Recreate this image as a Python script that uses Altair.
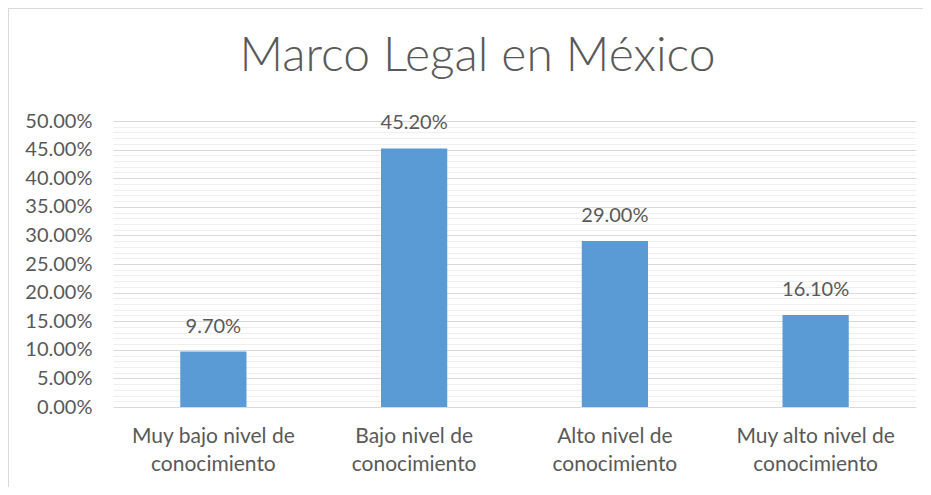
import altair as alt
import pandas as pd

categories = [
    "Muy bajo nivel de conocimiento",
    "Bajo nivel de conocimiento",
    "Alto nivel de conocimiento",
    "Muy alto nivel de conocimiento",
]
values = [0.097, 0.452, 0.290, 0.161]
y_ticks = [i / 100 for i in range(0, 51)]

df = pd.DataFrame({"cat": categories, "val": values})

FONT = "Lato"
TXT = "#595959"

base = alt.Chart(df).encode(
    x=alt.X(
        "cat:N",
        sort=categories,
        title=None,
        scale=alt.Scale(paddingInner=0.67, paddingOuter=0.335),
        axis=alt.Axis(
            labelAngle=0,
            labelExpr="[replace(datum.label, ' conocimiento', ''), 'conocimiento']",
            labelFont=FONT,
            labelFontSize=21,
            labelColor=TXT,
            labelPadding=18,
            labelLineHeight=28,
            ticks=False,
            domain=False,
            grid=False,
        ),
    ),
    y=alt.Y(
        "val:Q",
        title=None,
        scale=alt.Scale(domain=[0, 0.5], nice=False),
        axis=alt.Axis(
            values=y_ticks,
            format=".2%",
            labelExpr="round(datum.value*100) % 5 == 0 ? datum.label : ''",
            labelFont=FONT,
            labelFontSize=20,
            labelColor=TXT,
            labelPadding=21,
            ticks=False,
            domain=False,
            grid=True,
            gridColor={
                "condition": {"test": "round(datum.value*100) % 5 == 0", "value": "#d9d9d9"},
                "value": "#efefef",
            },
            gridWidth=1,
        ),
    ),
)

bars = base.mark_bar(color="#5B9BD5")
labels = base.mark_text(
    baseline="alphabetic", dy=-19, font=FONT, fontSize=20, color=TXT
).encode(text=alt.Text("val:Q", format=".2%"))

# chart-area frame (decoration, outside the plot area)
frame_src = alt.Chart(pd.DataFrame({"k": [0]}))
frame_left = frame_src.mark_rule(color="#d9d9d9", strokeWidth=1).encode(
    x=alt.value(-104.5), y=alt.value(-112.5), y2=alt.value(380)
)
frame_top = frame_src.mark_rule(color="#d9d9d9", strokeWidth=1).encode(
    x=alt.value(-104.5), x2=alt.value(815), y=alt.value(-112.5)
)

chart = (
    alt.layer(bars, labels, frame_left, frame_top)
    .properties(
        width=803,
        height=286,
        autosize=alt.AutoSizeParams(type="none"),
        padding={"left": 105, "top": 113, "right": 7, "bottom": 80},
        title=alt.TitleParams(
            "Marco Legal en México",
            font=FONT,
            fontSize=48,
            fontWeight=300,
            color=TXT,
            anchor="middle",
            baseline="alphabetic",
            offset=48,
            dx=-37,
            dy=159,
        ),
    )
    .configure_view(stroke=None)
)

chart.save("out.html", embed_options={"renderer": "svg", "actions": False})
